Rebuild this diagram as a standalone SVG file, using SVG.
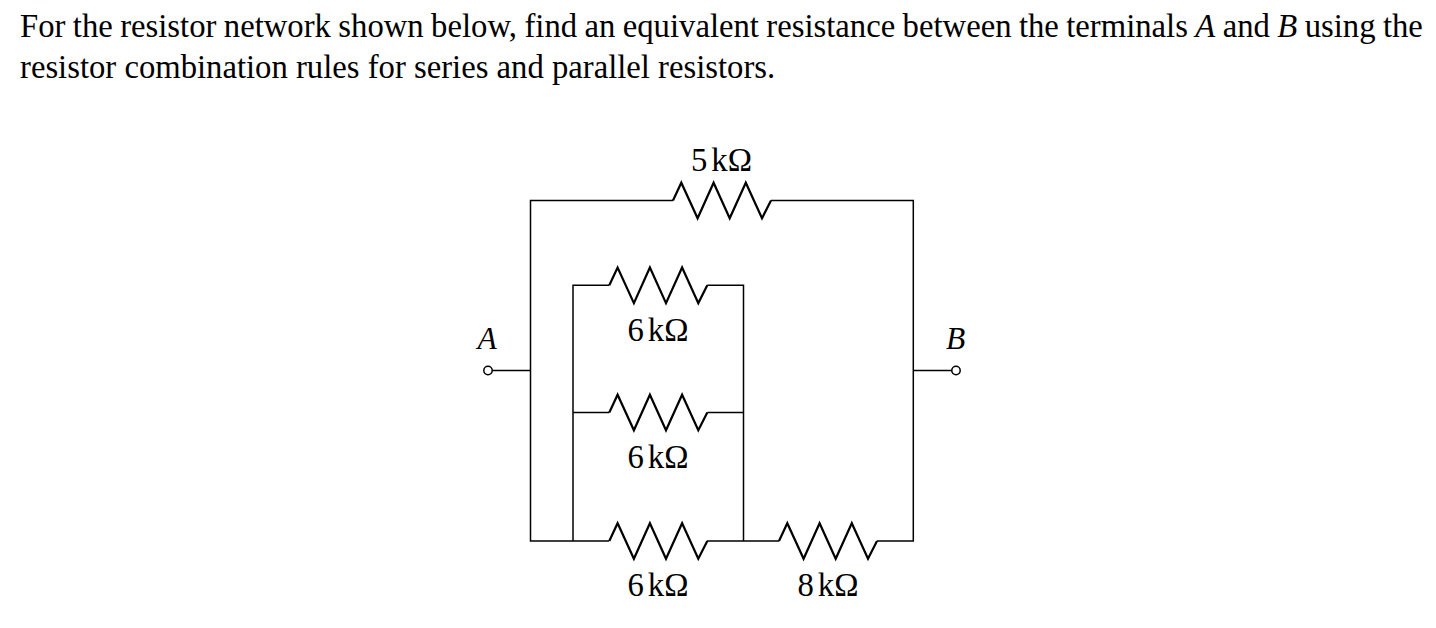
<svg xmlns="http://www.w3.org/2000/svg" xmlns:xlink="http://www.w3.org/1999/xlink" width="1436" height="628" viewBox="0 0 1436 628">
<style>
text{font-family:"Liberation Serif","Times New Roman",serif;fill:#000}
.p{font-size:32.7px}
.l{font-size:32.7px;text-anchor:middle}
.n{font-size:31.5px;text-anchor:middle;font-style:italic}
.w{fill:none;stroke:#000;stroke-width:1.5}
.r{fill:none;stroke:#000;stroke-width:2.2;stroke-linejoin:miter}
.t{fill:#fff;stroke:#000;stroke-width:1.5}
</style>
<defs><path id="z" class="r" d="M0 0L8.3-17.8L24.6 17.8L40.6-17.8L56.7 17.8L72.8-17.8L89 17.8L98 0"/></defs>
<rect width="1436" height="628" fill="#fff"/>
<g id="problem-text">
<text class="p" x="20" y="36.7" word-spacing="-0.76">For the resistor network shown below, find an equivalent resistance between the terminals <tspan font-style="italic">A</tspan> and <tspan font-style="italic">B</tspan> using the</text>
<text class="p" x="20" y="77.5">resistor combination rules for series and parallel resistors.</text>
</g>
<g id="connectors">
<path class="w" d="M530.5 370.5V200.5H673M771 200.5H913.3V541H877M779 541H707M609 541H530.5V370.5H492"/>
<path class="w" d="M913.3 370.5H952"/>
<path class="w" d="M609.3 285.3H573V541M707.3 285.3H743.5V541"/>
<path class="w" d="M573 412.5H609.3M707.3 412.5H743.5"/>
</g>
<g id="R1"><use xlink:href="#z" href="#z" x="673" y="200.5"/><text class="l" x="721.5" y="171">5<tspan dx="4">kΩ</tspan></text></g>
<g id="R2"><use xlink:href="#z" href="#z" x="609.3" y="285.3"/><text class="l" x="658" y="341">6<tspan dx="4">kΩ</tspan></text></g>
<g id="R3"><use xlink:href="#z" href="#z" x="609.3" y="412.5"/><text class="l" x="658" y="468">6<tspan dx="4">kΩ</tspan></text></g>
<g id="R4"><use xlink:href="#z" href="#z" x="609.3" y="541"/><text class="l" x="658" y="596">6<tspan dx="4">kΩ</tspan></text></g>
<g id="R5"><use xlink:href="#z" href="#z" x="779" y="541"/><text class="l" x="828" y="596">8<tspan dx="4">kΩ</tspan></text></g>
<g id="terminal-A"><circle class="t" cx="488" cy="370.5" r="4.2"/><text class="n" x="487" y="348.5">A</text></g>
<g id="terminal-B"><circle class="t" cx="956" cy="370.5" r="4.2"/><text class="n" x="955.5" y="348.5">B</text></g>
</svg>
